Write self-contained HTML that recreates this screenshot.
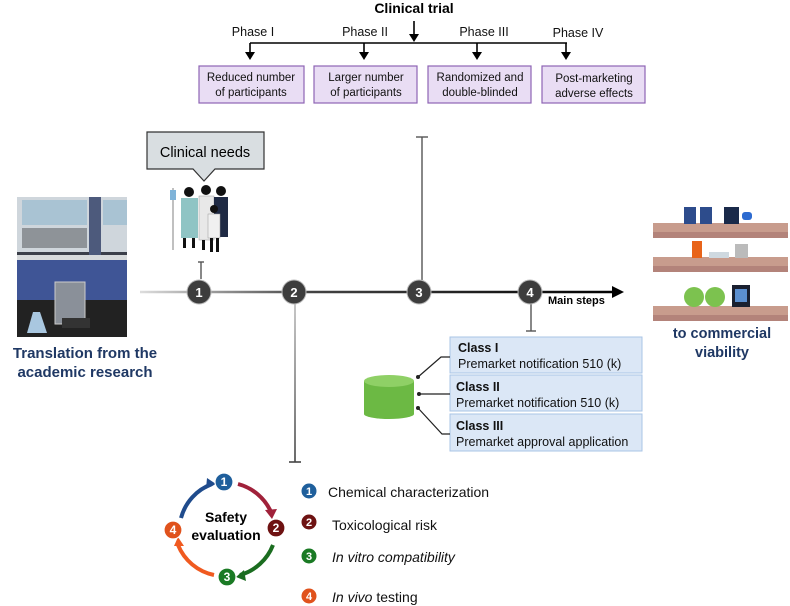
<!DOCTYPE html>
<html><head><meta charset="utf-8"><style>
html,body{margin:0;padding:0;background:#fff;}
svg{display:block;font-family:"Liberation Sans",Arial,sans-serif;}
</style></head><body>
<svg width="790" height="606" viewBox="0 0 790 606" xmlns="http://www.w3.org/2000/svg">
<defs>
<linearGradient id="tl" x1="140" y1="0" x2="620" y2="0" gradientUnits="userSpaceOnUse">
<stop offset="0" stop-color="#ddd"/><stop offset="0.35" stop-color="#444"/><stop offset="1" stop-color="#000"/></linearGradient>
<linearGradient id="v2" x1="0" y1="300" x2="0" y2="462" gradientUnits="userSpaceOnUse">
<stop offset="0" stop-color="#bbb"/><stop offset="1" stop-color="#444"/></linearGradient>
</defs>
<text x="414" y="13" font-size="14" font-weight="bold" text-anchor="middle">Clinical trial</text>
<g font-size="12.5" text-anchor="middle" fill="#111">
<text x="253" y="36">Phase I</text><text x="365" y="36">Phase II</text><text x="484" y="36">Phase III</text><text x="578" y="37">Phase IV</text></g>
<g stroke="#000" stroke-width="1.6" fill="none">
<line x1="414" y1="21" x2="414" y2="37"/>
<line x1="250" y1="43" x2="567" y2="43"/>
<line x1="250" y1="43" x2="250" y2="54"/><line x1="364" y1="43" x2="364" y2="54"/>
<line x1="477" y1="43" x2="477" y2="54"/><line x1="566" y1="43" x2="566" y2="54"/></g>
<g fill="#000"><path d="M409,34 L419,34 L414,42z"/><path d="M245,52 L255,52 L250,60z"/><path d="M359,52 L369,52 L364,60z"/><path d="M472,52 L482,52 L477,60z"/><path d="M561,52 L571,52 L566,60z"/></g>
<g fill="#e9ddf4" stroke="#8e64b4" stroke-width="1.2">
<rect x="199" y="66" width="105" height="37"/><rect x="314" y="66" width="103" height="37"/><rect x="428" y="66" width="103" height="37"/><rect x="542" y="66" width="103" height="37"/></g>
<g font-size="11.5" text-anchor="middle" fill="#111">
<text x="251" y="81">Reduced number</text><text x="251" y="96">of participants</text>
<text x="366" y="81">Larger number</text><text x="366" y="96">of participants</text>
<text x="480" y="81">Randomized and</text><text x="480" y="96">double-blinded</text>
<text x="594" y="82">Post-marketing</text><text x="594" y="97">adverse effects</text></g>
<path d="M147,132 L264,132 L264,169 L215,169 L204,181 L193,169 L147,169z" fill="#d9dee1" stroke="#333" stroke-width="1.2"/>
<text x="205" y="157" font-size="14.5" text-anchor="middle">Clinical needs</text>
<g>
<line x1="173" y1="188" x2="173" y2="250" stroke="#aaa" stroke-width="1.5"/>
<rect x="170" y="190" width="6" height="10" fill="#7fb3d8"/>
<rect x="181" y="198" width="17" height="40" fill="#8fc4c4"/><circle cx="189" cy="192" r="5" fill="#111"/>
<rect x="199" y="196" width="15" height="44" fill="#e8e8e8" stroke="#999" stroke-width=".5"/><circle cx="206" cy="190" r="5" fill="#111"/>
<rect x="214" y="197" width="14" height="40" fill="#1f2a44"/><circle cx="221" cy="191" r="5" fill="#111"/>
<rect x="208" y="214" width="12" height="24" fill="#f0f0f0" stroke="#999" stroke-width=".5"/><circle cx="214" cy="209" r="4" fill="#111"/>
<rect x="183" y="238" width="3" height="10" fill="#111"/><rect x="192" y="238" width="3" height="10" fill="#111"/>
<rect x="202" y="240" width="3" height="10" fill="#111"/><rect x="210" y="238" width="3" height="14" fill="#111"/><rect x="216" y="238" width="3" height="14" fill="#111"/>
</g>
<g>
<rect x="17" y="197" width="110" height="140" fill="#3b3f4a"/>
<rect x="17" y="197" width="110" height="55" fill="#cfd6dc"/>
<rect x="22" y="200" width="65" height="25" fill="#a9c3d3"/>
<rect x="22" y="228" width="65" height="20" fill="#8e9398"/>
<rect x="89" y="197" width="12" height="78" fill="#4d5a7c"/>
<rect x="103" y="200" width="24" height="25" fill="#a9c3d3"/>
<rect x="17" y="255" width="110" height="45" fill="#3f5596"/>
<rect x="17" y="255" width="110" height="5" fill="#d7dadc"/>
<rect x="17" y="300" width="110" height="37" fill="#222"/>
<rect x="55" y="282" width="30" height="42" fill="#8a9099" stroke="#ccc"/>
<rect x="62" y="318" width="28" height="10" fill="#333"/>
<path d="M33,312 L40,312 L47,333 L27,333z" fill="#a9c7e0"/>
</g>
<text x="85" y="358" font-size="15" font-weight="bold" fill="#1f3864" text-anchor="middle">Translation from the</text>
<text x="85" y="377" font-size="15" font-weight="bold" fill="#1f3864" text-anchor="middle">academic research</text>
<line x1="140" y1="292" x2="614" y2="292" stroke="url(#tl)" stroke-width="2.4"/>
<path d="M612,286 L624,292 L612,298z" fill="#000"/>
<text x="548" y="304" font-size="11" font-weight="bold">Main steps</text>
<g stroke="#555" stroke-width="1.4">
<line x1="201" y1="262" x2="201" y2="279"/><line x1="198" y1="262" x2="204" y2="262"/>
<line x1="422" y1="137" x2="422" y2="280"/><line x1="416" y1="137" x2="428" y2="137"/>
<line x1="531" y1="304" x2="531" y2="331"/><line x1="526" y1="331" x2="536" y2="331"/></g>
<line x1="295" y1="300" x2="295" y2="462" stroke="url(#v2)" stroke-width="1.6"/>
<line x1="289" y1="462" x2="301" y2="462" stroke="#444" stroke-width="1.6"/>
<g fill="#3d3d3d" stroke="#bbb" stroke-width="1"><circle cx="199" cy="292" r="12"/><circle cx="294" cy="292" r="12"/><circle cx="419" cy="292" r="12"/><circle cx="530" cy="292" r="12"/></g>
<g fill="#fff" font-size="13" font-weight="bold" text-anchor="middle">
<text x="199" y="297">1</text><text x="294" y="297">2</text><text x="419" y="297">3</text><text x="530" y="297">4</text></g>
<g fill="#dbe7f6" stroke="#a9c4e6" stroke-width="1">
<rect x="450" y="337" width="192" height="36"/><rect x="450" y="375" width="192" height="36"/><rect x="450" y="414" width="192" height="37"/></g>
<g font-size="12.5" fill="#111">
<text x="458" y="352" font-weight="bold">Class I</text><text x="458" y="368">Premarket notification 510 (k)</text>
<text x="456" y="391" font-weight="bold">Class II</text><text x="456" y="407">Premarket notification 510 (k)</text>
<text x="456" y="430" font-weight="bold">Class III</text><text x="456" y="446">Premarket approval application</text></g>
<g stroke="#222" stroke-width="1.2" fill="none">
<polyline points="418,377 441,357 450,357"/><line x1="419" y1="394" x2="450" y2="394"/><polyline points="418,408 442,434 450,434"/></g>
<g fill="#222"><circle cx="418" cy="377" r="2"/><circle cx="419" cy="394" r="2"/><circle cx="418" cy="408" r="2"/></g>
<g><rect x="364" y="381" width="50" height="33" fill="#6cb944"/><ellipse cx="389" cy="414" rx="25" ry="5" fill="#6cb944"/><ellipse cx="389" cy="381" rx="25" ry="6" fill="#8fd066"/></g>
<g>
<rect x="653" y="223" width="135" height="15" fill="#c89c8d"/><rect x="653" y="232" width="135" height="6" fill="#b3837a"/>
<rect x="653" y="257" width="135" height="15" fill="#c89c8d"/><rect x="653" y="266" width="135" height="6" fill="#b3837a"/>
<rect x="653" y="306" width="135" height="15" fill="#c89c8d"/><rect x="653" y="315" width="135" height="6" fill="#b3837a"/>
<rect x="684" y="207" width="12" height="17" fill="#2d4c8c"/><rect x="700" y="207" width="12" height="17" fill="#2d4c8c"/>
<rect x="724" y="207" width="15" height="17" fill="#1a2a4a"/><rect x="742" y="212" width="10" height="8" fill="#2d6bd0" rx="3"/>
<rect x="692" y="241" width="10" height="17" fill="#e8641a"/><rect x="709" y="252" width="20" height="6" fill="#cfd9e0"/><rect x="735" y="244" width="13" height="14" fill="#bbb"/>
<ellipse cx="694" cy="297" rx="10" ry="10" fill="#7cc24f"/><ellipse cx="715" cy="297" rx="10" ry="10" fill="#7cc24f"/>
<rect x="732" y="285" width="18" height="22" fill="#1a2030"/><rect x="735" y="289" width="12" height="13" fill="#5b8fd0"/>
</g>
<text x="722" y="338" font-size="14.5" font-weight="bold" fill="#1f3864" text-anchor="middle">to commercial</text>
<text x="722" y="357" font-size="14.5" font-weight="bold" fill="#1f3864" text-anchor="middle">viability</text>
<g fill="none" stroke-width="4">
<path d="M181,518 A50,50 0 0 1 212,484" stroke="#1f4b8c"/>
<path d="M238,484 A50,50 0 0 1 271,512" stroke="#a0213a"/>
<path d="M273,545 A50,50 0 0 1 240,575" stroke="#1b6d20"/>
<path d="M214,575 A50,50 0 0 1 178,545" stroke="#f05a20"/></g>
<g><path d="M207,478 L216,484 L206,489z" fill="#1f4b8c"/><path d="M265,510 L272,519 L277,509z" fill="#a0213a"/>
<path d="M244,570 L236,577 L246,581z" fill="#1b6d20"/><path d="M174,546 L178,537 L184,546z" fill="#f05a20"/></g>
<g stroke="#fff" stroke-width="1.2">
<circle cx="224" cy="482" r="9" fill="#1f5f9c"/><circle cx="276" cy="528" r="9" fill="#6e1212"/>
<circle cx="227" cy="577" r="9" fill="#1a7a24"/><circle cx="173" cy="530" r="9" fill="#e0521c"/></g>
<g fill="#fff" font-size="12" font-weight="bold" text-anchor="middle">
<text x="224" y="486">1</text><text x="276" y="532">2</text><text x="227" y="581">3</text><text x="173" y="534">4</text></g>
<text x="226" y="522" font-size="14" font-weight="bold" text-anchor="middle">Safety</text>
<text x="226" y="540" font-size="14" font-weight="bold" text-anchor="middle">evaluation</text>
<g stroke="#fff" stroke-width="1"><circle cx="309" cy="491" r="8" fill="#1f5f9c"/><circle cx="309" cy="522" r="8" fill="#6e1212"/><circle cx="309" cy="556" r="8" fill="#1a7a24"/><circle cx="309" cy="596" r="8" fill="#e0521c"/></g>
<g fill="#fff" font-size="11" font-weight="bold" text-anchor="middle">
<text x="309" y="495">1</text><text x="309" y="526">2</text><text x="309" y="560">3</text><text x="309" y="600">4</text></g>
<g font-size="14" fill="#111">
<text x="328" y="497">Chemical characterization</text>
<text x="332" y="530">Toxicological risk</text>
<text x="332" y="562" font-style="italic">In vitro compatibility</text>
<text x="332" y="602"><tspan font-style="italic">In vivo</tspan> testing</text></g>
</svg>
</body></html>
